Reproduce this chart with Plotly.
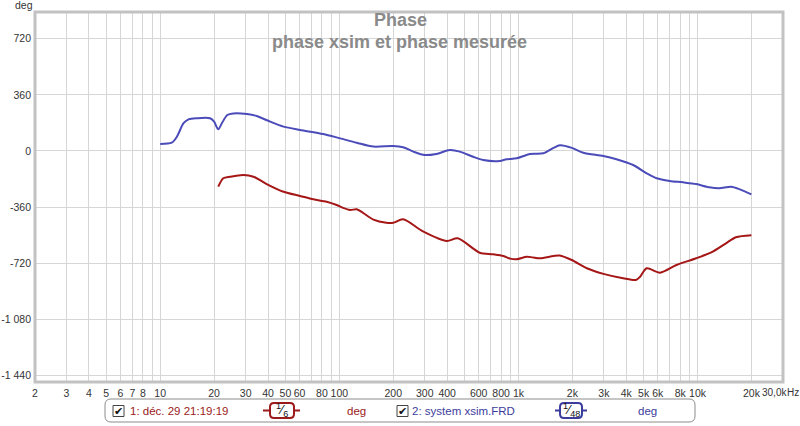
import numpy as np
import plotly.graph_objects as go

# ---------------- data ----------------
blue_f = [10, 11.6, 12.4, 13.5, 14.4, 16.0, 19.0, 20.0, 21.1, 22.1, 23.7, 25.6, 30.5, 34.6, 41.1, 48.8,
          60.4, 81.3, 101, 125, 155, 200, 227, 259, 300, 348, 414, 471, 558, 636, 786, 859, 978,
          1160, 1377, 1570, 1706, 1985, 2303, 2982, 3526, 4370, 5200, 5910, 7000, 8290, 9820,
          11630, 13230, 15420, 17230, 19980]
blue_p = [45, 53, 92, 178, 203, 210, 210, 188, 139, 178, 231, 241, 237, 224, 188, 156,
          135, 109, 81, 53, 28, 32, 24, -4, -26, -19, 6, -4, -37, -58, -64, -53, -47,
          -19, -15, 20, 36, 20, -11, -32, -53, -90, -143, -175, -192, -201, -212,
          -233, -239, -229, -246, -278]

red_f = [21.1, 22.5, 24.6, 29.1, 33.2, 39.3, 48.8, 60.4, 71.6, 85, 96.6, 105, 115, 125, 135, 155,
         183, 200, 227, 295, 398, 458, 608, 720, 824, 900, 978, 1113, 1200, 1320, 1570, 1700,
         1985, 2410, 2982, 3842, 4530, 4780, 5200, 6180, 7620, 9820, 12160, 14400, 16380, 19980]
red_p = [-229, -175, -165, -154, -165, -212, -261, -288, -310, -325, -346, -365, -378, -374, -395, -440,
         -460, -460, -438, -517, -577, -560, -652, -662, -673, -690, -694, -678, -682, -688, -673, -670,
         -699, -752, -788, -816, -827, -806, -752, -780, -731, -688, -645, -592, -553, -540]

y_ticks = [720, 360, 0, -360, -720, -1080, -1440]
y_tick_text = ["720", "360", "0", "-360", "-720", "-1 080", "-1 440"]

x_grid = [m * 10 ** d for d in range(0, 5) for m in range(1, 10)]
x_grid = [v for v in x_grid if 2 <= v <= 20000]
x_label_map = {2: "2", 3: "3", 4: "4", 5: "5", 6: "6", 7: "7", 8: "8", 10: "10", 20: "20", 30: "30",
               40: "40", 50: "50", 60: "60", 80: "80", 100: "100", 200: "200", 300: "300", 400: "400",
               600: "600", 800: "800", 1000: "1k", 2000: "2k", 3000: "3k", 4000: "4k", 5000: "5k",
               6000: "6k", 8000: "8k", 10000: "10k", 20000: "20k"}
x_tick_text = [x_label_map.get(v, "") for v in x_grid]

title1 = "Phase"
title2 = "phase xsim et phase mesurée"
leg1 = "1: déc. 29 21:19:19"
leg2 = "2: system xsim.FRD"

BLUE = "#4b4bb9"
RED = "#a51616"
LBLUE = "#3c3c9c"
LRED = "#9c1a1a"

# ---------------- geometry ----------------
W, H = 800, 426
L, R, T, B = 35, 17, 12, 44
PW, PH = W - L - R, H - T - B


def px(x):
    return (x - L) / PW


def py(y):
    return (H - B - y) / PH


fig = go.Figure()
fig.add_trace(go.Scatter(x=blue_f, y=blue_p, mode="lines", line=dict(color=BLUE, width=2, shape="spline", smoothing=0.8),
                         hoverinfo="skip"))
fig.add_trace(go.Scatter(x=red_f, y=red_p, mode="lines", line=dict(color=RED, width=2, shape="spline", smoothing=0.8),
                         hoverinfo="skip"))

font = "Liberation Sans, Arial, sans-serif"
fig.update_layout(
    width=W, height=H, margin=dict(l=L, r=R, t=T, b=B, autoexpand=False),
    paper_bgcolor="white", plot_bgcolor="white", showlegend=False,
    font=dict(family=font, size=11, color="#333333"),
    xaxis=dict(type="log", range=[np.log10(2), np.log10(30000)], tickvals=x_grid, ticktext=x_tick_text,
               showgrid=True, gridcolor="#d6d6d6", gridwidth=1, zeroline=False, ticks="", showline=False,
               tickangle=0, automargin=False, ticklabelstandoff=3, tickfont=dict(size=10.5, color="#333333")),
    yaxis=dict(range=[-1481, 891], tickvals=y_ticks, ticktext=y_tick_text, showgrid=True,
               gridcolor="#d6d6d6", gridwidth=1, zeroline=False, ticks="", showline=False,
               automargin=False, ticklabelstandoff=3, tickfont=dict(size=10.5, color="#333333")),
)

shapes = []
# plot frame
shapes.append(dict(type="rect", xref="paper", yref="paper", x0=0, x1=1, y0=0, y1=1,
                   line=dict(color="#c2c2c2", width=3)))


def rrect(x0, y0, x1, y1, r, color, width):
    pts = (f"M {px(x0 + r)},{py(y0)} L {px(x1 - r)},{py(y0)} Q {px(x1)},{py(y0)} {px(x1)},{py(y0 + r)} "
           f"L {px(x1)},{py(y1 - r)} Q {px(x1)},{py(y1)} {px(x1 - r)},{py(y1)} "
           f"L {px(x0 + r)},{py(y1)} Q {px(x0)},{py(y1)} {px(x0)},{py(y1 - r)} "
           f"L {px(x0)},{py(y0 + r)} Q {px(x0)},{py(y0)} {px(x0 + r)},{py(y0)} Z")
    return dict(type="path", xref="paper", yref="paper", path=pts, line=dict(color=color, width=width),
                fillcolor="rgba(0,0,0,0)")


# legend box
shapes.append(rrect(105, 399, 695, 422, 6, "#8c8c8c", 1))
# checkboxes
for cx in (113, 397):
    shapes.append(dict(type="rect", xref="paper", yref="paper", x0=px(cx), x1=px(cx + 11),
                       y0=py(416.5), y1=py(405.5), line=dict(color="#444444", width=1), fillcolor="white"))
# legend line symbols
for (x0, x1, bx0, bx1, col) in ((263, 300, 270, 294, LRED), (555, 587, 560, 582, LBLUE)):
    shapes.append(dict(type="line", xref="paper", yref="paper", x0=px(x0), x1=px(bx0), y0=py(410.5), y1=py(410.5),
                       line=dict(color=col, width=2)))
    shapes.append(dict(type="line", xref="paper", yref="paper", x0=px(bx1), x1=px(x1), y0=py(410.5), y1=py(410.5),
                       line=dict(color=col, width=2)))
    shapes.append(rrect(bx0, 403, bx1, 418, 4, col, 2))

fig.update_layout(shapes=shapes)

ann = []
ann.append(dict(xref="paper", yref="paper", x=px(400), y=py(20), text=f"<b>{title1}</b>", showarrow=False,
                font=dict(size=18, color="#8a8a8a", family=font), xanchor="center", yanchor="middle"))
ann.append(dict(xref="paper", yref="paper", x=px(399), y=py(42), text=f"<b>{title2}</b>", showarrow=False,
                font=dict(size=18, color="#8a8a8a", family=font), xanchor="center", yanchor="middle"))
ann.append(dict(xref="paper", yref="paper", x=px(13), y=py(5), text="deg", showarrow=False,
                font=dict(size=10.5, color="#333333", family=font), xanchor="left", yanchor="middle"))
ann.append(dict(xref="paper", yref="paper", x=px(760), y=py(392), text="30,0k", showarrow=False,
                font=dict(size=10, color="#333333", family=font), xanchor="left", yanchor="middle"))
ann.append(dict(xref="paper", yref="paper", x=px(785), y=py(392), text="Hz", showarrow=False,
                font=dict(size=10, color="#333333", family=font), xanchor="left", yanchor="middle"))
# legend texts
for cx in (113, 397):
    ann.append(dict(xref="paper", yref="paper", x=px(cx + 5.5), y=py(411), text="✔", showarrow=False,
                    font=dict(size=11, color="#111111", family="DejaVu Sans"), xanchor="center", yanchor="middle"))
ann.append(dict(xref="paper", yref="paper", x=px(128), y=py(410.5), text=leg1, showarrow=False,
                font=dict(size=11.5, color=LRED, family=font), xanchor="left", yanchor="middle"))
ann.append(dict(xref="paper", yref="paper", x=px(410), y=py(410.5), text=leg2, showarrow=False,
                font=dict(size=11.5, color=LBLUE, family=font), xanchor="left", yanchor="middle"))
ann.append(dict(xref="paper", yref="paper", x=px(356), y=py(410.5), text="deg", showarrow=False,
                font=dict(size=11.5, color=LRED, family=font), xanchor="center", yanchor="middle"))
ann.append(dict(xref="paper", yref="paper", x=px(647), y=py(410.5), text="deg", showarrow=False,
                font=dict(size=11.5, color=LBLUE, family=font), xanchor="center", yanchor="middle"))
ann.append(dict(xref="paper", yref="paper", x=px(282), y=py(409.5), text="<sup>1</sup>⁄<sub>6</sub>", showarrow=False,
                font=dict(size=13, color="#111111", family=font), xanchor="center", yanchor="middle"))
ann.append(dict(xref="paper", yref="paper", x=px(571), y=py(409.5), text="<sup>1</sup>⁄<sub>48</sub>", showarrow=False,
                font=dict(size=13, color="#111111", family=font), xanchor="center", yanchor="middle"))
fig.update_layout(annotations=ann)

fig.write_html("out.html", config={"displayModeBar": False},
               post_script="document.body.style.margin='0';document.body.style.padding='0';")
